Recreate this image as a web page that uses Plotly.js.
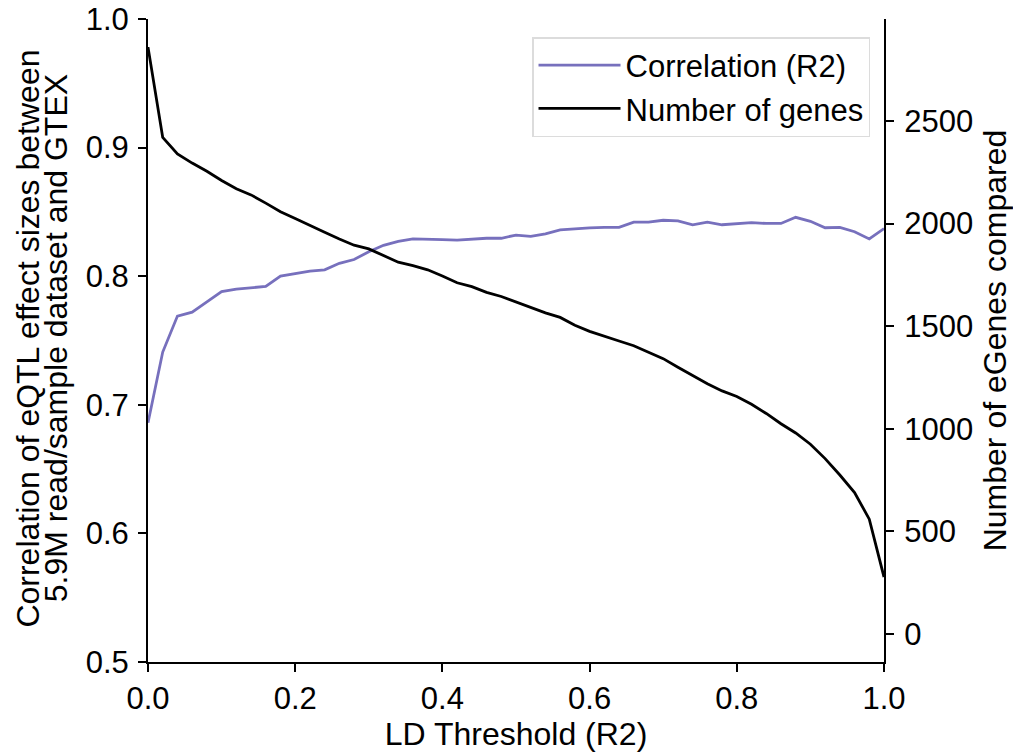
<!DOCTYPE html>
<html>
<head>
<meta charset="utf-8">
<script src="https://cdn.plot.ly/plotly-3.0.1.min.js"></script>
<style>html,body{margin:0;padding:0;background:#fff;}#chart{width:1013px;height:753px;}</style>
</head>
<body>
<div id="chart"></div>
<script>
const ldThreshold = [0.00,0.02,0.04,0.06,0.08,0.10,0.12,0.14,0.16,0.18,0.20,0.22,0.24,0.26,0.28,0.30,0.32,0.34,0.36,0.38,0.40,0.42,0.44,0.46,0.48,0.50,0.52,0.54,0.56,0.58,0.60,0.62,0.64,0.66,0.68,0.70,0.72,0.74,0.76,0.78,0.80,0.82,0.84,0.86,0.88,0.90,0.92,0.94,0.96,0.98,1.00];
const correlation = [0.686,0.741,0.769,0.772,0.780,0.788,0.790,0.791,0.792,0.800,0.802,0.804,0.805,0.810,0.813,0.819,0.824,0.827,0.829,0.829,0.8285,0.828,0.829,0.8295,0.8295,0.832,0.831,0.833,0.836,0.837,0.8375,0.838,0.838,0.842,0.842,0.8435,0.843,0.840,0.842,0.840,0.8406,0.8416,0.841,0.841,0.8458,0.8427,0.8377,0.838,0.8346,0.829,0.837];
const numGenes = [2860,2420,2340,2295,2255,2210,2170,2140,2100,2058,2025,1990,1958,1925,1895,1877,1845,1812,1795,1775,1745,1712,1693,1665,1645,1618,1590,1565,1543,1505,1475,1450,1428,1405,1375,1342,1300,1260,1220,1185,1158,1120,1075,1025,980,925,855,775,690,560,278];
const xTicks = [0,0.2,0.4,0.6,0.8,1.0];
const yTicks = [0.5,0.6,0.7,0.8,0.9,1.0];
const y2Ticks = [0,500,1000,1500,2000,2500];
const leftTitleLines = ['Correlation of eQTL effect sizes between', '5.9M read/sample dataset and GTEX'];

const FONT = 'Liberation Sans, Arial, Helvetica, sans-serif';

const traces = [
  {x: ldThreshold, y: correlation, type: 'scatter', mode: 'lines', name: 'Correlation (R2)',
   legendgroup: 'corr', line: {color: '#7770bd', width: 2.8}, yaxis: 'y'},
  {x: ldThreshold, y: numGenes, type: 'scatter', mode: 'lines', name: 'Number of genes',
   legendgroup: 'genes', line: {color: '#000000', width: 2.8}, yaxis: 'y2'}
];

const axisCommon = {
  showgrid: false, zeroline: false, showline: true, linecolor: '#000', linewidth: 2,
  ticks: 'outside', ticklen: 8, tickwidth: 2, tickcolor: '#000',
  tickfont: {family: FONT, size: 31, color: '#000'}
};

const layout = {
  width: 1013, height: 753,
  margin: {l: 148, r: 129, t: 19, b: 91, pad: 0},
  paper_bgcolor: '#fff', plot_bgcolor: '#fff',
  font: {family: FONT, color: '#000'},
  xaxis: Object.assign({}, axisCommon, {
    range: [0, 1], tickvals: xTicks, tickformat: '.1f',
    title: {text: 'LD Threshold (R2)', font: {family: FONT, size: 32, color: '#000'}, standoff: 0}
  }),
  yaxis: Object.assign({}, axisCommon, {
    range: [0.5, 1.0], tickvals: yTicks, tickformat: '.1f', ticklabelstandoff: 3
  }),
  yaxis2: Object.assign({}, axisCommon, {
    overlaying: 'y', side: 'right', range: [-136, 2997], tickvals: y2Ticks, tickformat: 'd',
    ticklabelstandoff: 4,
    title: {text: 'Number of eGenes compared', font: {family: FONT, size: 32, color: '#000'}, standoff: 12}
  }),
  annotations: [
    {text: leftTitleLines[0], xref: 'paper', yref: 'paper', x: -0.163, y: 0.503,
     xanchor: 'center', yanchor: 'middle', textangle: -90, showarrow: false,
     font: {family: FONT, size: 32, color: '#000'}},
    {text: leftTitleLines[1], xref: 'paper', yref: 'paper', x: -0.1255, y: 0.503,
     xanchor: 'center', yanchor: 'middle', textangle: -90, showarrow: false,
     font: {family: FONT, size: 32, color: '#000'}}
  ],
  showlegend: true,
  legend: {
    x: 0.981, y: 0.972, xanchor: 'right', yanchor: 'top',
    bgcolor: '#fff', bordercolor: '#dcdcdc', borderwidth: 1.5,
    font: {family: FONT, size: 31, color: '#000'},
    itemwidth: 82, traceorder: 'grouped', tracegroupgap: 0,
    entrywidth: 360, entrywidthmode: 'pixels'
  }
};

Plotly.newPlot('chart', traces, layout, {staticPlot: true, displayModeBar: false});
</script>
</body>
</html>
